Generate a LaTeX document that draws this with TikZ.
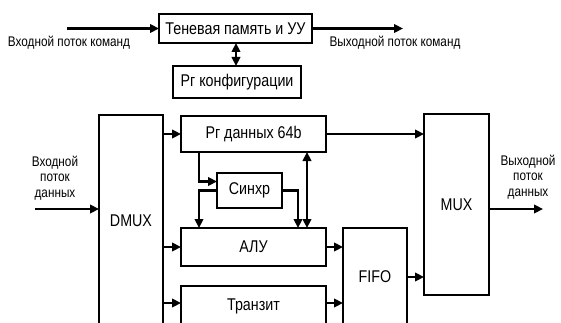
\documentclass[tikz,border=0pt]{standalone}
\usepackage{fontspec}
\setmainfont{Liberation Sans}
\newfontfamily\narrowsans[FakeStretch=0.84]{Liberation Sans}
\usetikzlibrary{arrows.meta}
\begin{document}
\begin{tikzpicture}[x=1pt,y=-1pt,
  blk/.style={draw,line width=2.6pt,inner sep=0pt,outer sep=0pt,font=\narrowsans\fontsize{17}{19}\selectfont},
  lbl/.style={inner sep=0pt,align=center,font=\narrowsans\fontsize{14}{15.5}\selectfont},
  arr/.style={line width=2.6pt,-{Triangle[length=9pt,width=8.5pt]}},
  arrb/.style={line width=2.6pt,{Triangle[length=9pt,width=8.5pt]}-{Triangle[length=9pt,width=8.5pt]}}]
\useasboundingbox (0,0) rectangle (561,323);
\clip (0,0) rectangle (561,323);
% blocks
\node[blk,minimum width=153pt,minimum height=29pt] (ten) at (235.5,28.5) {Теневая память и УУ};
\node[blk,minimum width=128pt,minimum height=32pt] (cfg) at (237,82) {Рг конфигурации};
\node[blk,minimum width=64pt,minimum height=211pt] (dmux) at (131,220.5) {DMUX};
\node[blk,minimum width=145pt,minimum height=36pt] (rg) at (253.5,134) {Рг данных 64b};
\node[blk,minimum width=65pt,minimum height=35pt] (sync) at (249.5,190.5) {Синхр};
\node[blk,minimum width=145pt,minimum height=38pt] (alu) at (253.5,247) {АЛУ};
\node[blk,minimum width=145pt,minimum height=40pt] (tr) at (253.5,306) {Транзит};
\node[blk,minimum width=64pt,minimum height=98pt] (fifo) at (375,277) {FIFO};
\node[blk,minimum width=65pt,minimum height=181pt] (mux) at (456.5,204.5) {MUX};
% labels
\node[lbl] (lcin) at (69,43) {Входной поток команд};
\node[lbl] (lcout) at (395,43) {Выходной поток команд};
\node[lbl] (ldin) at (55,178) {Входной\\поток\\данных};
\node[lbl] (ldout) at (528,177) {Выходной\\поток\\данных};
% free ends and helper points
\coordinate (cin) at (67,28.5);
\coordinate (cout) at (403,28.5);
\coordinate (din) at (35,209);
\coordinate (dout) at (543,209);
\coordinate (trin) at ([yshift=3pt]tr.west);
\coordinate (trout) at ([yshift=3pt]tr.east);
% connectors
\draw[arr] (cin) -- (ten.west);
\draw[arr] (ten.east) -- (cout);
\draw[arrb] ([xshift=0.5pt]ten.south) -- ([xshift=0.5pt]ten.south |- cfg.north);
\draw[arr] (din) -- (din -| dmux.west);
\draw[arr] (dmux.east |- rg.west) -- (rg.west);
\draw[arr] (dmux.east |- alu.west) -- (alu.west);
\draw[arr] (dmux.east |- trin) -- (trin);
\draw[arr] (rg.east) -- (rg.east -| mux.west);
\draw[arr] (alu.east) -- (alu.east -| fifo.west);
\draw[arr] (trout) -- (trout -| fifo.west);
\draw[arr] (fifo.east) -- (fifo.east -| mux.west);
\draw[arr] (dout -| mux.east) -- (dout);
\draw[arr] ([xshift=-54.5pt]rg.south) |- ([yshift=9pt]sync.west);
\draw[arr] (sync.west) -| ([xshift=-54.5pt]alu.north);
\draw[arr] (sync.east) -| ([xshift=44.5pt]alu.north);
\draw[arrb] ([xshift=53.5pt]rg.south) -- ([xshift=53.5pt]alu.north);
\end{tikzpicture}
\end{document}
